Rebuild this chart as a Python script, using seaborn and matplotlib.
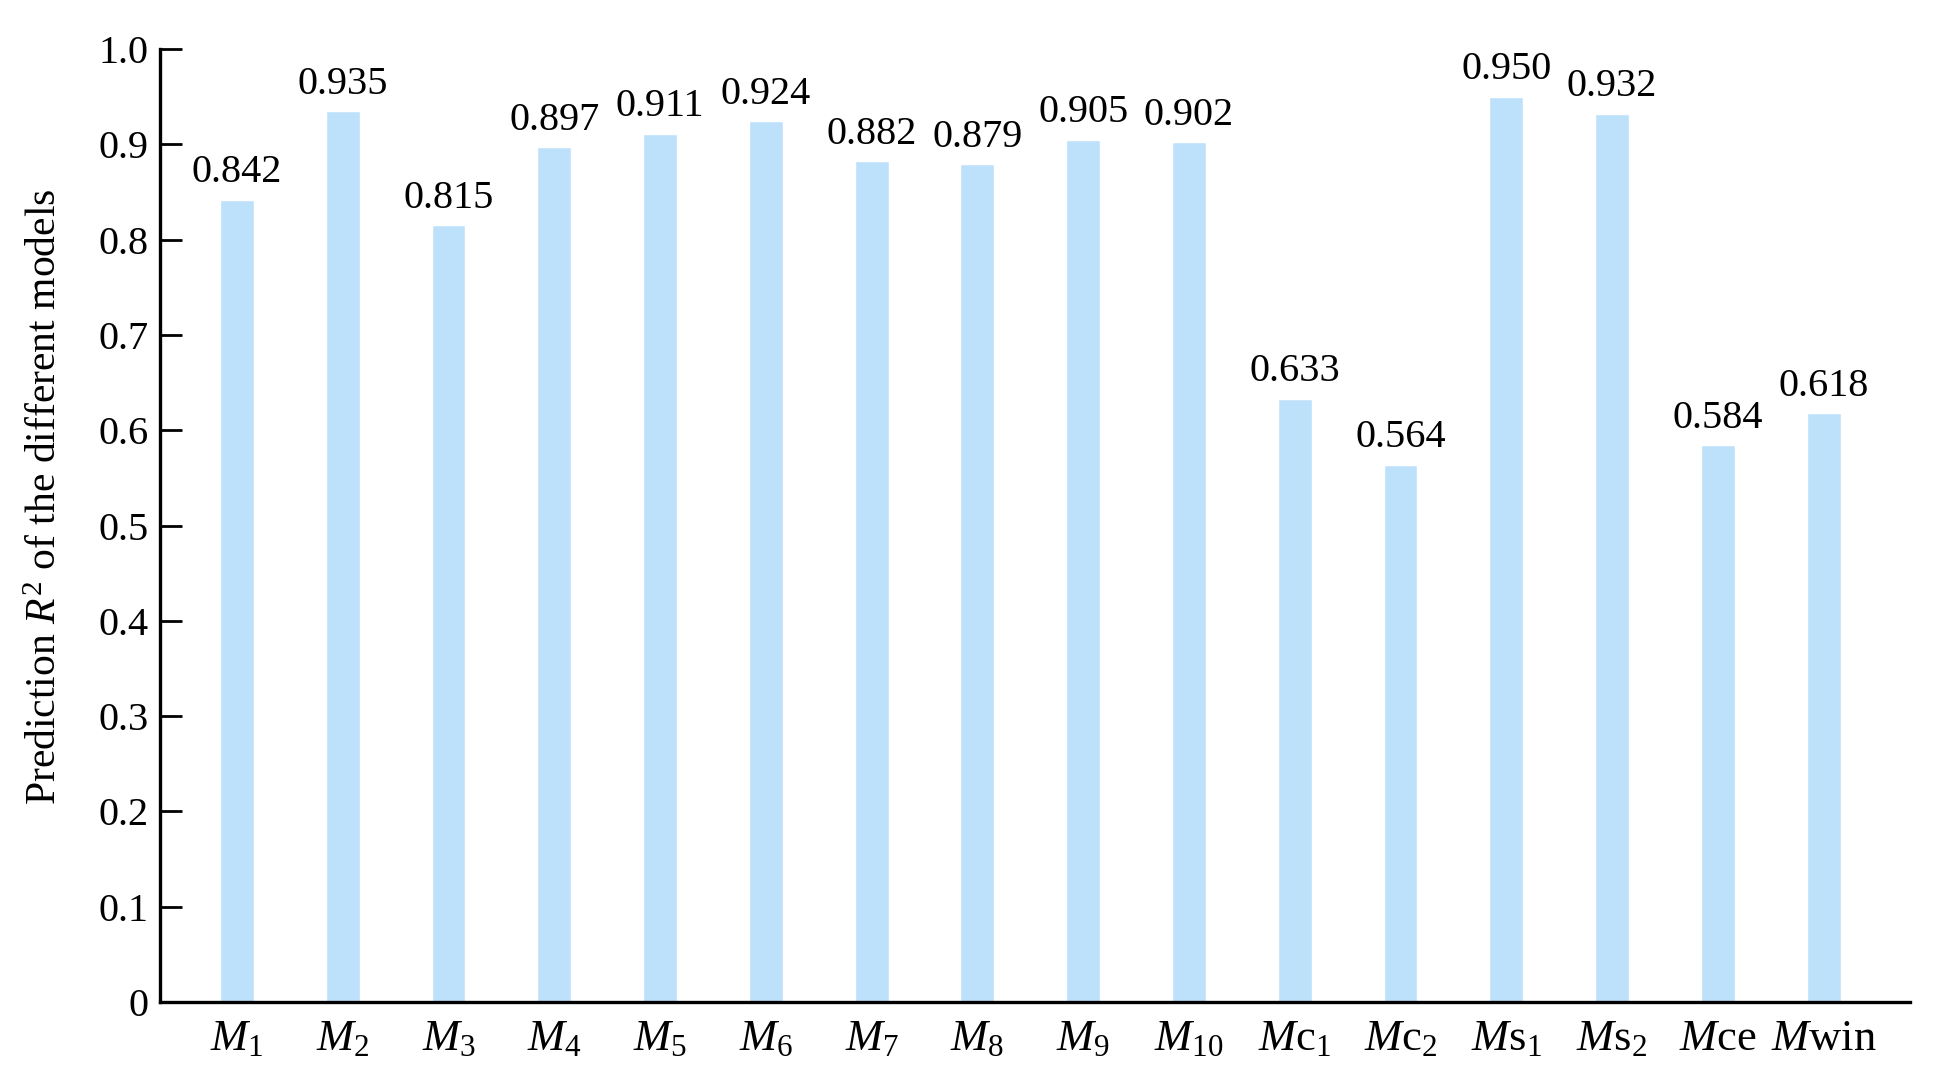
import matplotlib
matplotlib.use("Agg")
import matplotlib.pyplot as plt
import seaborn as sns
import pandas as pd

# ── Data ──────────────────────────────────────────────────────
models = ["M1", "M2", "M3", "M4", "M5", "M6", "M7", "M8", "M9", "M10",
          "Mc1", "Mc2", "Ms1", "Ms2", "Mce", "Mwin"]
tick_labels = [
    r"$\mathit{M}_{\mathrm{1}}$", r"$\mathit{M}_{\mathrm{2}}$",
    r"$\mathit{M}_{\mathrm{3}}$", r"$\mathit{M}_{\mathrm{4}}$",
    r"$\mathit{M}_{\mathrm{5}}$", r"$\mathit{M}_{\mathrm{6}}$",
    r"$\mathit{M}_{\mathrm{7}}$", r"$\mathit{M}_{\mathrm{8}}$",
    r"$\mathit{M}_{\mathrm{9}}$", r"$\mathit{M}_{\mathrm{10}}$",
    r"$\mathit{M}\mathrm{c}_{\mathrm{1}}$", r"$\mathit{M}\mathrm{c}_{\mathrm{2}}$",
    r"$\mathit{M}\mathrm{s}_{\mathrm{1}}$", r"$\mathit{M}\mathrm{s}_{\mathrm{2}}$",
    r"$\mathit{M}\mathrm{ce}$", r"$\mathit{M}\mathrm{win}$",
]
r2_values = [0.842, 0.935, 0.815, 0.897, 0.911, 0.924, 0.882, 0.879,
             0.905, 0.902, 0.633, 0.564, 0.950, 0.932, 0.584, 0.618]
y_ticks = [0, 0.1, 0.2, 0.3, 0.4, 0.5, 0.6, 0.7, 0.8, 0.9, 1.0]
y_tick_labels = ["0", "0.1", "0.2", "0.3", "0.4", "0.5", "0.6", "0.7", "0.8", "0.9", "1.0"]

BAR_COLOR = "#BEE1FB"

# ── Style ─────────────────────────────────────────────────────
sns.set_style("ticks")
plt.rcParams["font.family"] = ["Liberation Serif", "DejaVu Serif"]
plt.rcParams["mathtext.fontset"] = "custom"
plt.rcParams["mathtext.rm"] = "Liberation Serif"
plt.rcParams["mathtext.it"] = "Liberation Serif:italic"
for key in ("text.color", "axes.labelcolor", "xtick.color",
            "ytick.color", "axes.edgecolor"):
    plt.rcParams[key] = "black"

df = pd.DataFrame({"model": models, "r2": r2_values})

fig = plt.figure(figsize=(19.39, 10.84), dpi=100)
ax = fig.add_axes([160 / 1939, 1 - 1002 / 1084, 1750 / 1939, (1002 - 49) / 1084])

sns.barplot(data=df, x="model", y="r2", color=BAR_COLOR, width=0.32,
            saturation=1, ax=ax)

for c in ax.containers:
    ax.bar_label(c, labels=[f"{v:.3f}" for v in r2_values],
                 padding=6, fontsize=29, color="black")

ax.set_xlim(-0.728, 15.817)
ax.set_ylim(0, 1.0)
ax.set_yticks(y_ticks)
ax.set_yticklabels(y_tick_labels, fontsize=29)
ax.set_xticks(range(len(models)))
ax.set_xticklabels(tick_labels, fontsize=32)
ax.set_xlabel("")
ax.set_ylabel(r"Prediction $\mathit{R}^{2}$ of the different models", fontsize=30)
ax.yaxis.set_label_coords(-0.054, 0.53)

ax.tick_params(axis="y", direction="in", length=16, width=2, pad=8)
ax.tick_params(axis="x", length=0, pad=12)
sns.despine(ax=ax)
for side in ("left", "bottom"):
    ax.spines[side].set_linewidth(2.4)

fig.savefig("out.png", dpi=100)
